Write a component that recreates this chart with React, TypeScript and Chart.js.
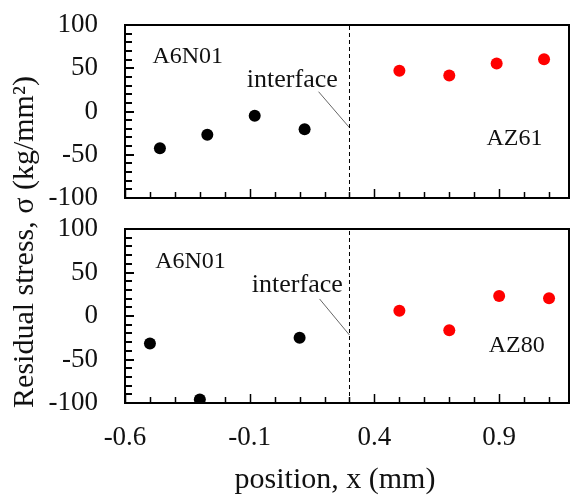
import { useEffect, useRef } from "react";
import { Chart, registerables } from "chart.js";

Chart.register(...registerables);

// ---------------- data ----------------
const X_MIN = -0.6;
const X_MAX = 1.18;
const X_TICKS = [-0.6, -0.1, 0.4, 0.9];
const X_TICK_LABELS = ["-0.6", "-0.1", "0.4", "0.9"];
const Y_MIN = -100;
const Y_MAX = 100;
const Y_TICKS = [-100, -50, 0, 50, 100];
const Y_TICK_LABELS = ["-100", "-50", "0", "50", "100"];
const INTERFACE_X = 0.3;

// top panel: A6N01 / AZ61
const topA6N01X = [-0.46, -0.27, -0.08, 0.12];
const topA6N01Y = [-42.5, -27, -5, -20.5];
const topAZ61X = [0.5, 0.7, 0.89, 1.08];
const topAZ61Y = [47, 41.5, 55.5, 60.5];

// bottom panel: A6N01 / AZ80
const botA6N01X = [-0.5, -0.3, 0.1];
const botA6N01Y = [-31.5, -96, -25];
const botAZ80X = [0.5, 0.7, 0.9, 1.1];
const botAZ80Y = [6, -16.5, 23, 20.5];

const X_TITLE = "position, x (mm)";
const Y_TITLE = "Residual stress, σ (kg/mm²)";

// annotation anchors (data coordinates)
const topLabels = [
  { text: "A6N01", x: -0.49, y: 55.7, align: "left", size: 24 },
  { text: "interface", x: 0.253, y: 28.7, align: "right", size: 26 },
  { text: "AZ61", x: 0.849, y: -38.7, align: "left", size: 24 },
];
const botLabels = [
  { text: "A6N01", x: -0.479, y: 55, align: "left", size: 24 },
  { text: "interface", x: 0.273, y: 27.9, align: "right", size: 26 },
  { text: "AZ80", x: 0.858, y: -41.1, align: "left", size: 24 },
];
const topLeader = [
  { x: 0.176, y: 22.9 },
  { x: 0.3, y: -18.7 },
];
const botLeader = [
  { x: 0.18, y: 19.6 },
  { x: 0.3, y: -21.9 },
];

// ---------------- helpers ----------------
const FONT = "'Liberation Serif', 'Times New Roman', serif";
const W = 575;
const H = 498;

const pts = (xs: number[], ys: number[]) => xs.map((x, i) => ({ x, y: ys[i] }));

function decorPlugin(labels: any[], drawTitles: boolean) {
  return {
    id: "panelDecor",
    afterDraw(chart: any) {
      const { ctx, chartArea } = chart;
      const xs = chart.scales.x;
      const ys = chart.scales.y;
      ctx.save();
      // frame
      ctx.strokeStyle = "#000";
      ctx.lineWidth = 2;
      ctx.strokeRect(
        chartArea.left,
        chartArea.top,
        chartArea.right - chartArea.left,
        chartArea.bottom - chartArea.top
      );
      // y inward ticks every 10
      ctx.lineWidth = 2;
      ctx.beginPath();
      for (let k = 0; Y_MIN + 10 * k <= Y_MAX + 1e-9; k++) {
        const v = Y_MIN + 10 * k;
        const py = Math.round(ys.getPixelForValue(v));
        const len = v % 50 === 0 ? 9 : 7;
        ctx.moveTo(chartArea.left, py);
        ctx.lineTo(chartArea.left + len, py);
      }
      ctx.stroke();
      // x inward ticks every 0.1
      ctx.lineWidth = 1.5;
      ctx.beginPath();
      for (let k = 0; X_MIN + 0.1 * k <= X_MAX + 1e-9; k++) {
        const v = X_MIN + 0.1 * k;
        const px = Math.round(xs.getPixelForValue(v)) + 0.5;
        const major = k % 5 === 0;
        const len = major ? 9 : 6;
        ctx.moveTo(px, chartArea.bottom);
        ctx.lineTo(px, chartArea.bottom - len);
      }
      ctx.stroke();
      // annotations
      ctx.fillStyle = "#111";
      ctx.textBaseline = "alphabetic";
      for (const l of labels) {
        ctx.font = `${l.size}px ${FONT}`;
        ctx.textAlign = l.align;
        ctx.fillText(l.text, xs.getPixelForValue(l.x), ys.getPixelForValue(l.y));
      }
      if (drawTitles) {
        // x title
        ctx.font = `30px ${FONT}`;
        ctx.textAlign = "center";
        ctx.textBaseline = "alphabetic";
        ctx.fillStyle = "#111";
        ctx.fillText(X_TITLE, 335, 488);
        // y title
        ctx.translate(25, 242);
        ctx.rotate(-Math.PI / 2);
        ctx.font = `30px ${FONT}`;
        ctx.textAlign = "center";
        ctx.textBaseline = "middle";
        ctx.fillText(Y_TITLE, 0, 0);
      }
      ctx.restore();
    },
  };
}

function makeConfig(opts: {
  black: { x: number; y: number }[];
  red: { x: number; y: number }[];
  leader: { x: number; y: number }[];
  labels: any[];
  padTop: number;
  padBottom: number;
  showX: boolean;
  titles: boolean;
}): any {
  return {
    type: "scatter",
    data: {
      datasets: [
        {
          data: opts.black,
          backgroundColor: "#000",
          borderWidth: 0,
          pointRadius: 6,
        },
        {
          data: opts.red,
          backgroundColor: "#ff0000",
          borderWidth: 0,
          pointRadius: 6,
        },
        {
          data: [
            { x: INTERFACE_X, y: Y_MIN },
            { x: INTERFACE_X, y: Y_MAX },
          ],
          showLine: true,
          borderColor: "#000",
          borderWidth: 1,
          borderDash: [4, 3],
          pointRadius: 0,
        },
        {
          data: opts.leader,
          showLine: true,
          borderColor: "#666",
          borderWidth: 1,
          pointRadius: 0,
        },
      ],
    },
    options: {
      responsive: false,
      animation: false,
      events: [],
      layout: {
        padding: { top: opts.padTop, bottom: opts.padBottom, left: 0, right: 1 },
      },
      plugins: {
        legend: { display: false },
        tooltip: { enabled: false },
      },
      scales: {
        x: {
          type: "linear",
          display: opts.showX,
          min: X_MIN,
          max: X_MAX,
          afterBuildTicks: (s: any) => {
            s.ticks = X_TICKS.map((v) => ({ value: v }));
          },
          afterFit: (s: any) => {
            s.height = opts.showX ? 95 : 0;
          },
          grid: { display: false, drawTicks: false },
          border: { display: false },
          ticks: {
            padding: 19,
            color: "#111",
            maxRotation: 0,
            autoSkip: false,
            font: { family: FONT, size: 27 },
            callback: (_v: any, i: number) => X_TICK_LABELS[i],
          },
        },
        y: {
          type: "linear",
          min: Y_MIN,
          max: Y_MAX,
          afterBuildTicks: (s: any) => {
            s.ticks = Y_TICKS.map((v) => ({ value: v }));
          },
          afterFit: (s: any) => {
            s.width = 125;
          },
          grid: { display: false, drawTicks: true, tickLength: 19 },
          border: { display: false },
          ticks: {
            padding: 8,
            color: "#111",
            autoSkip: false,
            font: { family: FONT, size: 27 },
            callback: (_v: any, i: number) => Y_TICK_LABELS[i],
          },
        },
      },
    },
    plugins: [decorPlugin(opts.labels, opts.titles)],
  };
}

export default function App() {
  const topRef = useRef<HTMLCanvasElement | null>(null);
  const botRef = useRef<HTMLCanvasElement | null>(null);

  useEffect(() => {
    if (!topRef.current || !botRef.current) return;
    const top = new Chart(
      topRef.current,
      makeConfig({
        black: pts(topA6N01X, topA6N01Y),
        red: pts(topAZ61X, topAZ61Y),
        leader: topLeader,
        labels: topLabels,
        padTop: 25,
        padBottom: 300,
        showX: false,
        titles: false,
      })
    );
    const bot = new Chart(
      botRef.current,
      makeConfig({
        black: pts(botA6N01X, botA6N01Y),
        red: pts(botAZ80X, botAZ80Y),
        leader: botLeader,
        labels: botLabels,
        padTop: 229,
        padBottom: 0,
        showX: true,
        titles: true,
      })
    );
    return () => {
      top.destroy();
      bot.destroy();
    };
  }, []);

  const cstyle: any = { position: "absolute", left: 0, top: 0, width: W, height: H };
  return (
    <div style={{ position: "fixed", left: 0, top: 0, width: W, height: H, background: "#fff" }}>
      <canvas ref={topRef} width={W} height={H} style={cstyle} />
      <canvas ref={botRef} width={W} height={H} style={cstyle} />
    </div>
  );
}
